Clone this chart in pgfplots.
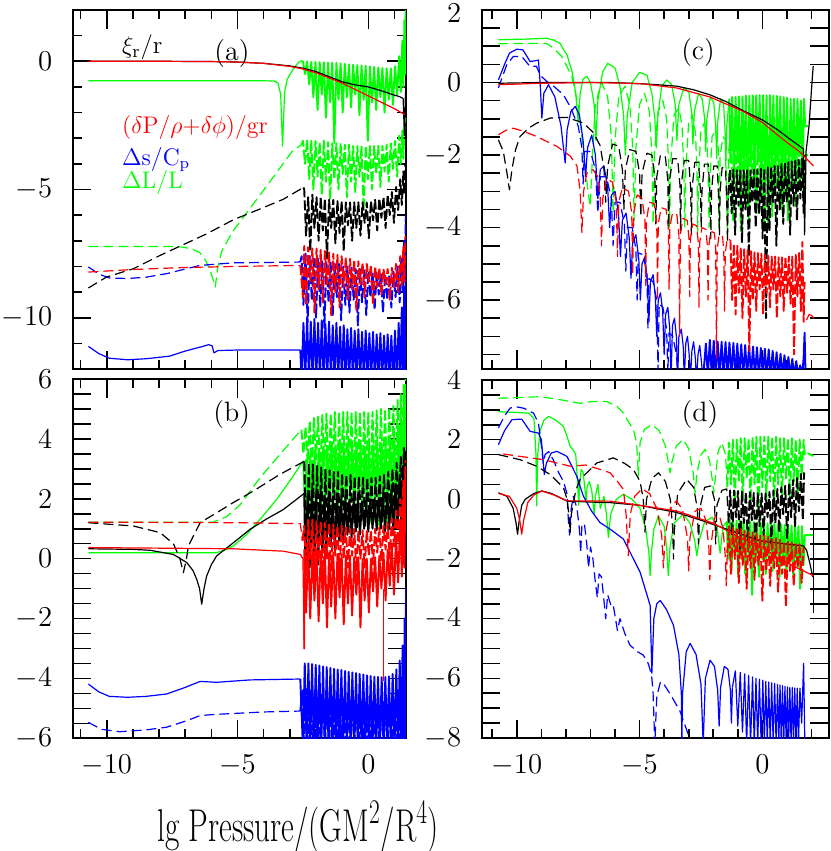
\documentclass[border=0pt]{standalone}
\usepackage{graphicx}
\usepackage{pgfplots}
\pgfplotsset{compat=1.18}
% Four panels of mode amplitudes against lg P. Picture units are pt, one pixel of the
% reference is 0.5pt, so the axes sit where the reference frames are.
\pgfplotsset{
  panel/.style={
    scale only axis, anchor=north west, clip=true,
    axis line style={line width=1pt},
    tick align=inside, tick pos=both,
    major tick length=9.25pt, minor tick length=4.5pt,
    tick style={line width=0.8pt, black},
    tick label style={font=\fontsize{15.5}{18}\selectfont},
    yticklabel style={inner sep=0pt, xshift=-10pt},
    xticklabel style={inner sep=0pt, yshift=-8.3pt},
  },
  S/.style={line width=0.6pt, line join=round},
  D/.style={line width=0.6pt, line join=round, dash pattern=on 5pt off 2.5pt},
  % the fast-oscillating tails: heavier strokes so the bands read as filled
  SZ/.style={line width=0.95pt, line join=round},
  DZ/.style={line width=0.95pt, line join=round, dash pattern=on 5pt off 1.5pt},
}
\begin{document}
\begin{tikzpicture}[x=1pt,y=1pt]
\useasboundingbox (0pt,0pt) rectangle (415pt,-425.5pt);

% ---------------- (a) ----------------
\begin{axis}[panel, at={(36.35pt,-5pt)}, width=166.65pt, height=179.5pt,
  xmin=-11.3, xmax=1.44, ymin=-12, ymax=2,
  xtick={-10,-5,0}, minor xtick={-11,...,1}, xticklabels={},
  ytick={-10,-5,0}, minor ytick={-12,...,2}]
\addplot[green,D] coordinates {(-10.7,-7.22) (-7.3,-7.22) (-6.8,-7.3) (-6.45,-7.45) (-6.2,-7.8) (-6.0,-8.3) (-5.85,-8.8) (-5.75,-8.0) (-5.6,-7.4) (-5.2,-6.66) (-4.4,-5.57) (-3.6,-4.47) (-2.9,-3.5) (-2.55,-3.25)};
\addplot[green,DZ] coordinates {(-2.55,-3.25) (-2.5,-3.1) (-2.42,-4.0) (-2.34,-3.05) (-2.26,-4.6) (-2.18,-3.1) (-2.10,-5.0) (-2.02,-3.1) (-1.94,-4.5) (-1.86,-3.15) (-1.78,-5.2) (-1.70,-3.1) (-1.62,-4.7) (-1.54,-3.15) (-1.46,-5.4) (-1.38,-3.2) (-1.30,-4.6) (-1.22,-3.2) (-1.14,-5.0) (-1.06,-3.2) (-0.98,-4.4) (-0.90,-3.25) (-0.82,-5.3) (-0.74,-3.25) (-0.66,-4.7) (-0.58,-3.3) (-0.50,-5.1) (-0.42,-3.3) (-0.34,-4.5) (-0.26,-3.3) (-0.18,-5.8) (-0.10,-3.3) (-0.02,-4.6) (0.06,-3.3) (0.14,-5.0) (0.22,-3.3) (0.30,-4.4) (0.38,-3.3) (0.46,-4.9) (0.54,-3.3) (0.62,-4.3) (0.70,-3.25) (0.78,-4.7) (0.86,-3.2) (0.94,-4.2) (1.02,-3.1) (1.10,-4.5) (1.18,-2.9) (1.24,-4.0) (1.30,-2.7) (1.34,-3.8) (1.38,-2.5) (1.42,-2.2)};
\addplot[green,S] coordinates {(-10.7,-0.76) (-4.0,-0.76) (-3.6,-0.77) (-3.45,-0.85) (-3.35,-1.3) (-3.28,-3.3) (-3.2,-1.2) (-3.1,-0.7) (-2.9,-0.35) (-2.7,-0.08) (-2.6,0.0)};
\addplot[green,SZ] coordinates {(-2.6,0.0) (-2.5,0.0) (-2.42,-0.5) (-2.34,0.0) (-2.26,-0.9) (-2.18,-0.02) (-2.10,-1.4) (-2.02,-0.02) (-1.94,-1.9) (-1.86,-0.03) (-1.78,-1.3) (-1.70,-0.04) (-1.62,-2.2) (-1.54,-0.05) (-1.46,-1.6) (-1.38,-0.05) (-1.30,-3.2) (-1.22,-0.06) (-1.14,-1.5) (-1.06,-0.08) (-0.98,-2.0) (-0.90,-0.1) (-0.82,-1.4) (-0.74,-0.12) (-0.66,-1.8) (-0.58,-0.13) (-0.50,-1.3) (-0.42,-0.15) (-0.34,-2.1) (-0.26,-0.16) (-0.18,-1.5) (-0.10,-0.18) (-0.02,-3.1) (0.06,-0.2) (0.14,-1.6) (0.22,-0.22) (0.30,-1.9) (0.38,-0.24) (0.46,-1.4) (0.54,-0.26) (0.62,-2.0) (0.70,-0.27) (0.78,-1.5) (0.86,-0.28) (0.94,-1.7) (1.02,-0.2) (1.10,-1.3) (1.18,0.2) (1.24,-1.2) (1.30,0.8) (1.34,-1.0) (1.38,1.6) (1.41,-0.5) (1.43,2.0)};
\addplot[blue,D] coordinates {(-10.7,-8.02) (-10.3,-8.3) (-9.9,-8.45) (-9.2,-8.47) (-8.5,-8.42) (-7.7,-8.28) (-7.0,-8.1) (-6.43,-7.96) (-5.17,-7.86) (-2.6,-7.83)};
\addplot[blue,DZ] coordinates {(-2.6,-7.83) (-2.55,-7.6) (-2.48,-9.5) (-2.40,-7.5) (-2.32,-10.2) (-2.24,-7.6) (-2.16,-9.3) (-2.08,-7.7) (-2.00,-10.0) (-1.92,-7.7) (-1.84,-9.6) (-1.76,-7.8) (-1.68,-10.4) (-1.60,-7.8) (-1.52,-9.4) (-1.44,-7.85) (-1.36,-9.9) (-1.28,-7.9) (-1.20,-9.2) (-1.12,-7.9) (-1.04,-10.1) (-0.96,-8.0) (-0.88,-9.5) (-0.80,-8.0) (-0.72,-9.8) (-0.64,-8.05) (-0.56,-9.3) (-0.48,-8.1) (-0.40,-10.3) (-0.32,-8.1) (-0.24,-9.4) (-0.16,-8.15) (-0.08,-9.9) (0.00,-8.2) (0.08,-9.2) (0.16,-8.2) (0.24,-9.7) (0.32,-8.25) (0.40,-9.1) (0.48,-8.3) (0.56,-9.8) (0.64,-8.3) (0.72,-9.3) (0.80,-8.3) (0.88,-9.6) (0.96,-8.2) (1.04,-9.2) (1.12,-8.0) (1.20,-9.4) (1.26,-7.6) (1.32,-9.0) (1.37,-7.0) (1.41,-8.5) (1.43,-6.0)};
\addplot[blue,S] coordinates {(-10.7,-11.12) (-10.3,-11.4) (-9.9,-11.58) (-9.2,-11.64) (-8.5,-11.6) (-7.6,-11.5) (-7.0,-11.3) (-6.33,-11.12) (-6.1,-11.05) (-5.97,-11.1) (-5.9,-11.37) (-5.75,-11.28) (-5.0,-11.26) (-2.6,-11.26)};
\addplot[blue,SZ] coordinates {(-2.6,-11.26) (-2.55,-12.4) (-2.48,-10.2) (-2.41,-12.4) (-2.34,-10.0) (-2.27,-12.4) (-2.20,-10.15) (-2.13,-12.4) (-2.06,-10.05) (-1.99,-12.4) (-1.92,-10.2) (-1.85,-12.4) (-1.78,-10.1) (-1.71,-12.4) (-1.64,-10.25) (-1.57,-12.4) (-1.50,-10.15) (-1.43,-12.4) (-1.36,-10.3) (-1.29,-12.4) (-1.22,-10.2) (-1.15,-12.4) (-1.08,-10.35) (-1.01,-12.4) (-0.94,-10.3) (-0.87,-12.4) (-0.80,-10.45) (-0.73,-12.4) (-0.66,-10.4) (-0.59,-12.4) (-0.52,-10.5) (-0.45,-12.4) (-0.38,-10.45) (-0.31,-12.4) (-0.24,-10.55) (-0.17,-12.4) (-0.10,-10.5) (-0.03,-12.4) (0.04,-10.6) (0.11,-12.4) (0.18,-10.55) (0.25,-12.4) (0.32,-10.65) (0.39,-12.4) (0.46,-10.6) (0.53,-12.4) (0.60,-10.7) (0.67,-12.4) (0.74,-10.65) (0.81,-12.4) (0.88,-10.7) (0.95,-12.4) (1.02,-10.5) (1.09,-12.4) (1.16,-10.2) (1.22,-12.4) (1.28,-9.6) (1.33,-12.4) (1.37,-8.8) (1.40,-12.4) (1.43,-7.5)};
\addplot[black,D] coordinates {(-10.7,-8.84) (-10.0,-8.41) (-8.98,-8.09) (-7.96,-7.57) (-7.2,-7.21) (-6.18,-6.73) (-5.16,-6.18) (-4.14,-5.76) (-3.25,-5.38) (-2.48,-4.92)};
\addplot[black,DZ] coordinates {(-2.48,-4.92) (-2.45,-5.0) (-2.38,-6.8) (-2.30,-5.3) (-2.22,-7.4) (-2.14,-5.2) (-2.06,-6.5) (-1.98,-5.3) (-1.90,-7.0) (-1.82,-5.3) (-1.74,-6.6) (-1.66,-5.35) (-1.58,-7.7) (-1.50,-5.4) (-1.42,-6.5) (-1.34,-5.4) (-1.26,-7.1) (-1.18,-5.45) (-1.10,-6.7) (-1.02,-5.45) (-0.94,-7.4) (-0.86,-5.5) (-0.78,-6.4) (-0.70,-5.5) (-0.62,-7.0) (-0.54,-5.5) (-0.46,-6.5) (-0.38,-5.5) (-0.30,-6.8) (-0.22,-5.5) (-0.14,-6.3) (-0.06,-5.5) (0.02,-6.9) (0.10,-5.45) (0.18,-6.2) (0.26,-5.4) (0.34,-6.6) (0.42,-5.35) (0.50,-6.1) (0.58,-5.3) (0.66,-6.5) (0.74,-5.2) (0.82,-6.0) (0.90,-5.1) (0.98,-6.3) (1.06,-4.9) (1.14,-5.8) (1.22,-4.6) (1.28,-5.6) (1.34,-4.3) (1.38,-5.2) (1.42,-4.0)};
\addplot[black,S] coordinates {(-10.7,0) (-8,0) (-6,-0.01) (-5,-0.03) (-4,-0.08) (-3,-0.18) (-2.5,-0.27) (-2,-0.4) (-1.5,-0.6) (-1,-0.8) (-0.5,-0.92) (0,-1.0) (0.5,-1.15) (1.0,-1.32) (1.2,-1.38) (1.33,-1.45) (1.38,-2.9) (1.42,-1.2)};
\addplot[red,D] coordinates {(-10.7,-8.22) (-9,-8.12) (-7,-8.04) (-5,-8.0) (-2.6,-7.96)};
\addplot[red,DZ] coordinates {(-2.6,-7.96) (-2.5,-9.2) (-2.45,-7.2) (-2.38,-9.5) (-2.30,-7.25) (-2.22,-8.6) (-2.14,-7.3) (-2.06,-9.8) (-1.98,-7.3) (-1.90,-8.9) (-1.82,-7.35) (-1.74,-9.4) (-1.66,-7.4) (-1.58,-8.7) (-1.50,-7.45) (-1.42,-9.9) (-1.34,-7.5) (-1.26,-9.0) (-1.18,-7.55) (-1.10,-9.6) (-1.02,-7.6) (-0.94,-8.8) (-0.86,-7.65) (-0.78,-9.3) (-0.70,-7.7) (-0.62,-8.9) (-0.54,-7.75) (-0.46,-9.7) (-0.38,-7.8) (-0.30,-8.7) (-0.22,-7.85) (-0.14,-9.2) (-0.06,-7.9) (0.02,-8.6) (0.10,-7.95) (0.18,-9.5) (0.26,-8.0) (0.34,-8.8) (0.42,-8.05) (0.50,-9.1) (0.58,-8.1) (0.66,-8.7) (0.74,-8.1) (0.82,-9.3) (0.90,-8.05) (0.98,-8.8) (1.06,-7.9) (1.14,-9.0) (1.22,-7.6) (1.28,-8.8) (1.34,-7.2) (1.38,-8.6) (1.42,-6.8)};
\addplot[red,S] coordinates {(-10.7,0) (-8,0) (-6,-0.01) (-5,-0.03) (-4,-0.08) (-3,-0.2) (-2.5,-0.3) (-2,-0.45) (-1.5,-0.65) (-1,-0.85) (-0.5,-1.1) (0,-1.35) (0.5,-1.6) (1,-1.85) (1.4,-2.08)};
\node[font=\fontsize{14}{16}\selectfont] at (axis cs:-5.21,0.32) {(a)};
\node[anchor=west, font=\fontsize{12.5}{15}\selectfont] at (axis cs:-9.68,0.55) {$\xi_{\mathrm{r}}$/r};
\node[anchor=west, red, font=\fontsize{12}{15}\selectfont] at (axis cs:-9.68,-2.59) {($\delta$P/$\rho$+$\delta\phi$)/gr};
\node[anchor=west, blue, font=\fontsize{12}{15}\selectfont] at (axis cs:-9.68,-3.83) {$\Delta$s/C$_{\mathrm{p}}$};
\node[anchor=west, green, font=\fontsize{12}{15}\selectfont] at (axis cs:-9.68,-4.72) {$\Delta$L/L};
\end{axis}

% ---------------- (b) ----------------
\begin{axis}[panel, at={(36.35pt,-189.5pt)}, width=166.65pt, height=179.65pt,
  xmin=-11.3, xmax=1.44, ymin=-6, ymax=6,
  xtick={-10,-5,0}, minor xtick={-11,...,1},
  ytick={-6,-5.5,...,6},
  yticklabels={$-6$,,,,$-4$,,,,$-2$,,,,$0$,,,,$2$,,,,$4$,,,,$6$}]
\addplot[green,D] coordinates {(-10.7,1.22) (-5.93,1.22) (-5.42,1.4) (-4.91,1.79) (-4.15,2.69) (-3.39,3.47) (-2.56,4.31)};
\addplot[green,DZ] coordinates {(-2.56,4.31) (-2.48,3.5) (-2.40,4.4) (-2.32,3.2) (-2.24,4.6) (-2.16,2.9) (-2.08,4.7) (-2.00,3.3) (-1.92,4.75) (-1.84,2.6) (-1.76,4.8) (-1.68,3.1) (-1.60,4.85) (-1.52,2.4) (-1.44,4.85) (-1.36,3.0) (-1.28,4.9) (-1.20,2.2) (-1.12,4.9) (-1.04,2.9) (-0.96,4.9) (-0.88,2.3) (-0.80,4.9) (-0.72,2.8) (-0.64,4.9) (-0.56,2.1) (-0.48,4.9) (-0.40,2.7) (-0.32,4.9) (-0.24,2.2) (-0.16,4.9) (-0.08,2.8) (0.00,4.9) (0.08,2.0) (0.16,4.9) (0.24,2.6) (0.32,4.95) (0.40,2.1) (0.48,5.0) (0.56,2.7) (0.64,5.0) (0.72,2.2) (0.80,5.05) (0.88,2.6) (0.96,5.1) (1.04,2.4) (1.12,5.3) (1.18,2.8) (1.24,5.5) (1.30,3.2) (1.35,5.8) (1.39,3.8) (1.43,6.2)};
\addplot[green,S] coordinates {(-10.7,0.2) (-5.8,0.2) (-5.42,0.31) (-5.17,0.42) (-4.66,0.8) (-4.15,1.3) (-3.5,1.98) (-2.87,2.76) (-2.5,3.26) (-2.42,1.4)};
\addplot[green,SZ] coordinates {(-2.42,1.4) (-2.38,3.3) (-2.30,1.3) (-2.22,3.5) (-2.14,1.0) (-2.06,3.6) (-1.98,1.5) (-1.90,3.65) (-1.82,1.1) (-1.74,3.7) (-1.66,1.6) (-1.58,3.7) (-1.50,1.2) (-1.42,3.75) (-1.34,1.7) (-1.26,3.75) (-1.18,1.3) (-1.10,3.75) (-1.02,1.8) (-0.94,3.75) (-0.86,1.4) (-0.78,3.75) (-0.70,1.9) (-0.62,3.75) (-0.54,1.4) (-0.46,3.75) (-0.38,1.8) (-0.30,3.75) (-0.22,1.3) (-0.14,3.75) (-0.06,1.7) (0.02,3.75) (0.10,1.2) (0.18,3.8) (0.26,1.6) (0.34,3.8) (0.42,1.1) (0.50,3.85) (0.58,1.5) (0.66,3.9) (0.74,1.0) (0.82,4.0) (0.90,1.4) (0.98,4.1) (1.06,1.2) (1.14,4.3) (1.20,1.6) (1.26,4.6) (1.32,2.0) (1.36,5.0) (1.40,2.5) (1.43,5.6)};
\addplot[blue,D] coordinates {(-10.7,-5.47) (-10.2,-5.7) (-9.5,-5.78) (-8.5,-5.72) (-7.71,-5.63) (-6.9,-5.4) (-6.43,-5.24) (-5.8,-5.2) (-4,-5.12) (-2.6,-5.09)};
\addplot[blue,DZ] coordinates {(-2.6,-5.09) (-2.52,-4.4) (-2.46,-6.3) (-2.38,-4.35) (-2.30,-6.3) (-2.22,-4.4) (-2.14,-6.3) (-2.06,-4.45) (-1.98,-6.3) (-1.90,-4.5) (-1.82,-6.3) (-1.74,-4.55) (-1.66,-6.3) (-1.58,-4.6) (-1.50,-6.3) (-1.42,-4.65) (-1.34,-6.3) (-1.26,-4.7) (-1.18,-6.3) (-1.10,-4.72) (-1.02,-6.3) (-0.94,-4.75) (-0.86,-6.3) (-0.78,-4.78) (-0.70,-6.3) (-0.62,-4.8) (-0.54,-6.3) (-0.46,-4.83) (-0.38,-6.3) (-0.30,-4.85) (-0.22,-6.3) (-0.14,-4.87) (-0.06,-6.3) (0.02,-4.9) (0.10,-6.3) (0.18,-4.9) (0.26,-6.3) (0.34,-4.9) (0.42,-6.3) (0.50,-4.88) (0.58,-6.3) (0.66,-4.85) (0.74,-6.3) (0.82,-4.8) (0.90,-6.3) (0.98,-4.7) (1.06,-6.3) (1.14,-4.5) (1.22,-6.3) (1.30,-4.0) (1.36,-6.3) (1.42,-3.0)};
\addplot[blue,S] coordinates {(-10.7,-4.19) (-10.3,-4.45) (-9.9,-4.6) (-9.2,-4.63) (-8.5,-4.6) (-7.71,-4.52) (-7.0,-4.3) (-6.43,-4.1) (-5.8,-4.13) (-4.52,-4.05) (-2.6,-4.02)};
\addplot[blue,SZ] coordinates {(-2.6,-4.02) (-2.50,-6.3) (-2.43,-3.5) (-2.36,-6.3) (-2.29,-3.5) (-2.22,-6.3) (-2.15,-3.52) (-2.08,-6.3) (-2.01,-3.55) (-1.94,-6.3) (-1.87,-3.57) (-1.80,-6.3) (-1.73,-3.6) (-1.66,-6.3) (-1.59,-3.62) (-1.52,-6.3) (-1.45,-3.65) (-1.38,-6.3) (-1.31,-3.68) (-1.24,-6.3) (-1.17,-3.7) (-1.10,-6.3) (-1.03,-3.72) (-0.96,-6.3) (-0.89,-3.75) (-0.82,-6.3) (-0.75,-3.78) (-0.68,-6.3) (-0.61,-3.8) (-0.54,-6.3) (-0.47,-3.82) (-0.40,-6.3) (-0.33,-3.85) (-0.26,-6.3) (-0.19,-3.87) (-0.12,-6.3) (-0.05,-3.9) (0.02,-6.3) (0.09,-3.92) (0.16,-6.3) (0.23,-3.94) (0.30,-6.3) (0.37,-3.95) (0.44,-6.3) (0.51,-3.96) (0.58,-6.3) (0.65,-3.95) (0.72,-6.3) (0.79,-3.93) (0.86,-6.3) (0.93,-3.85) (1.00,-6.3) (1.07,-3.7) (1.14,-6.3) (1.20,-3.4) (1.26,-6.3) (1.31,-2.9) (1.35,-6.3) (1.39,-2.0) (1.42,-6.3) (1.44,-1.0)};
\addplot[black,D] coordinates {(-10.7,1.2) (-8.98,1.09) (-7.96,0.87) (-7.45,0.5) (-7.2,0.0) (-7.07,-0.47) (-6.95,0.0) (-6.88,0.42) (-6.43,1.2) (-5.8,1.53) (-5.17,1.87) (-4.41,2.25) (-3.39,2.81) (-2.45,3.25)};
\addplot[black,DZ] coordinates {(-2.45,3.25) (-2.36,0.0) (-2.28,3.2) (-2.20,0.5) (-2.12,3.15) (-2.04,0.3) (-1.96,3.1) (-1.88,0.7) (-1.80,3.05) (-1.72,0.5) (-1.64,3.0) (-1.56,0.9) (-1.48,2.95) (-1.40,0.7) (-1.32,2.9) (-1.24,1.0) (-1.16,2.9) (-1.08,0.8) (-1.00,2.85) (-0.92,1.1) (-0.84,2.8) (-0.76,0.9) (-0.68,2.8) (-0.60,1.2) (-0.52,2.75) (-0.44,1.0) (-0.36,2.75) (-0.28,1.3) (-0.20,2.7) (-0.12,1.1) (-0.04,2.7) (0.04,1.3) (0.12,2.7) (0.20,1.2) (0.28,2.7) (0.36,1.4) (0.44,2.75) (0.52,1.2) (0.60,2.8) (0.68,1.4) (0.76,2.9) (0.84,1.3) (0.92,3.0) (1.00,1.5) (1.08,3.2) (1.16,1.6) (1.24,3.4) (1.30,1.8) (1.36,3.7) (1.41,2.0)};
\addplot[black,S] coordinates {(-10.7,0.33) (-9,0.31) (-8.34,0.28) (-7.45,0.14) (-6.94,-0.13) (-6.7,-0.4) (-6.56,-0.69) (-6.45,-1.0) (-6.37,-1.52) (-6.28,-1.0) (-6.18,-0.58) (-6.0,-0.2) (-5.8,0.09) (-5.16,0.53) (-4.52,0.98) (-3.88,1.33) (-3.25,1.64) (-2.45,2.18)};
\addplot[black,SZ] coordinates {(-2.45,2.18) (-2.40,-0.6) (-2.32,2.2) (-2.24,-0.3) (-2.16,2.2) (-2.08,0.0) (-2.00,2.15) (-1.92,-0.2) (-1.84,2.15) (-1.76,0.2) (-1.68,2.1) (-1.60,0.1) (-1.52,2.1) (-1.44,0.4) (-1.36,2.05) (-1.28,0.3) (-1.20,2.05) (-1.12,0.6) (-1.04,2.0) (-0.96,0.5) (-0.88,2.0) (-0.80,0.8) (-0.72,1.95) (-0.64,0.7) (-0.56,1.95) (-0.48,0.9) (-0.40,1.95) (-0.32,0.8) (-0.24,1.9) (-0.16,1.0) (-0.08,1.9) (0.00,0.9) (0.08,1.9) (0.16,1.0) (0.24,1.95) (0.32,0.95) (0.40,2.0) (0.48,1.0) (0.56,2.1) (0.64,0.9) (0.72,2.2) (0.80,1.0) (0.88,2.3) (0.96,0.9) (1.04,2.5) (1.12,1.0) (1.20,2.8) (1.26,1.2) (1.32,3.1) (1.37,1.4) (1.42,3.6)};
\addplot[red,D] coordinates {(-10.7,1.22) (-5,1.2) (-2.6,1.17) (-2.52,0.6)};
\addplot[red,DZ] coordinates {(-2.52,0.6) (-2.45,1.1) (-2.38,-0.4) (-2.30,1.3) (-2.22,0.0) (-2.14,1.3) (-2.06,-0.5) (-1.98,1.25) (-1.90,-0.1) (-1.82,1.25) (-1.74,-0.6) (-1.66,1.2) (-1.58,0.0) (-1.50,1.2) (-1.42,-0.4) (-1.34,1.15) (-1.26,0.1) (-1.18,1.1) (-1.10,-0.5) (-1.02,1.1) (-0.94,0.0) (-0.86,1.05) (-0.78,-0.3) (-0.70,1.0) (-0.62,0.1) (-0.54,1.0) (-0.46,-0.4) (-0.38,0.95) (-0.30,0.0) (-0.22,0.95) (-0.14,-0.3) (-0.06,0.95) (0.02,0.1) (0.10,0.95) (0.18,-0.2) (0.26,1.0) (0.34,0.2) (0.42,1.05) (0.50,-0.1) (0.58,1.1) (0.66,0.3) (0.74,1.2) (0.82,0.0) (0.90,1.35) (0.98,0.4) (1.06,1.6) (1.14,0.5) (1.22,2.0) (1.28,0.8) (1.34,2.6) (1.38,1.0) (1.42,3.3)};
\addplot[red,S] coordinates {(-10.7,0.37) (-5.17,0.33) (-3.25,0.25) (-2.6,0.14) (-2.5,0.0) (-2.45,-3.02)};
\addplot[red,SZ] coordinates {(-2.45,-3.02) (-2.45,0.3) (-2.38,-1.8) (-2.30,0.35) (-2.22,-2.0) (-2.14,0.3) (-2.06,-1.4) (-1.98,0.3) (-1.90,-2.1) (-1.82,0.25) (-1.74,-1.5) (-1.66,0.25) (-1.58,-2.3) (-1.50,0.2) (-1.42,-1.6) (-1.34,0.2) (-1.26,-2.0) (-1.18,0.15) (-1.10,-1.3) (-1.02,0.15) (-0.94,-2.2) (-0.86,0.1) (-0.78,-1.5) (-0.70,0.1) (-0.62,-1.9) (-0.54,0.05) (-0.46,-1.2) (-0.38,0.05) (-0.30,-2.3) (-0.22,0.0) (-0.14,-1.4) (-0.06,0.0) (0.02,-1.8) (0.10,0.0) (0.18,-1.1) (0.26,0.05) (0.34,-1.6) (0.42,0.1) (0.50,-1.0) (0.58,0.2) (0.66,-1.4) (0.74,0.3) (0.82,-0.9) (0.90,0.5) (0.98,-1.2) (1.06,0.8) (1.14,-0.8) (1.22,1.3) (1.28,-0.6) (1.34,2.0) (1.38,-0.3) (1.42,3.0)};
\addplot[red,S] coordinates {(0.57,-1.0) (0.57,-4.1)};
\node[font=\fontsize{14}{16}\selectfont] at (axis cs:-5.22,4.81) {(b)};
\end{axis}

% ---------------- (c) ----------------
\begin{axis}[panel, at={(240.85pt,-5pt)}, width=173.6pt, height=179.5pt,
  xmin=-11.43, xmax=2.71, ymin=-7.9, ymax=2,
  xtick={-10,-5,0}, minor xtick={-11,...,2}, xticklabels={},
  ytick={-7.5,-7,...,2},
  yticklabels={,,,$-6$,,,,$-4$,,,,$-2$,,,,$0$,,,,\raisebox{-6.5pt}[0pt][0pt]{$2$}}]
\addplot[green,D] coordinates {(-10.75,1.07) (-9.5,1.08) (-8.8,1.08) (-8.51,0.95) (-8.17,0.72) (-7.76,0.17) (-7.49,-0.66) (-7.3,-1.8) (-7.1,-3.0) (-7.01,-3.42) (-6.92,-2.0) (-6.8,-0.6) (-6.55,0.0) (-6.3,-0.4) (-6.15,-1.5) (-6.08,-3.6) (-6.0,-1.6) (-5.85,-0.4) (-5.6,-0.1) (-5.4,-0.6) (-5.28,-1.8) (-5.22,-3.8) (-5.15,-1.8) (-5.0,-0.6) (-4.8,-0.3) (-4.6,-0.8) (-4.5,-2.0) (-4.45,-3.9) (-4.4,-2.0) (-4.25,-0.8) (-4.05,-0.5) (-3.9,-1.0) (-3.82,-2.2) (-3.78,-4.0) (-3.73,-2.2) (-3.6,-0.9) (-3.4,-0.7) (-3.27,-1.2) (-3.2,-2.4) (-3.16,-4.0) (-3.12,-2.4) (-3.0,-1.1) (-2.85,-0.9) (-2.72,-1.4) (-2.66,-2.6) (-2.63,-4.1) (-2.6,-2.6) (-2.5,-1.3) (-2.35,-1.1) (-2.25,-1.6) (-2.2,-2.8) (-2.17,-4.0) (-2.14,-2.8) (-2.05,-1.5) (-1.9,-1.3) (-1.8,-1.8) (-1.76,-4.1) (-1.72,-2.0) (-1.6,-1.5) (-1.5,-1.6) (-1.42,-4.2) (-1.36,-1.9)};
\addplot[green,DZ] coordinates {(-1.36,-1.9) (-1.28,-1.4) (-1.20,-3.8) (-1.12,-1.3) (-1.04,-3.0) (-0.96,-1.3) (-0.88,-4.1) (-0.80,-1.25) (-0.72,-3.2) (-0.64,-1.25) (-0.56,-3.9) (-0.48,-1.2) (-0.40,-2.9) (-0.32,-1.2) (-0.24,-3.6) (-0.16,-1.2) (-0.08,-3.0) (0.00,-1.2) (0.08,-4.0) (0.16,-1.2) (0.24,-3.1) (0.32,-1.2) (0.40,-3.7) (0.48,-1.2) (0.56,-2.9) (0.64,-1.25) (0.72,-3.5) (0.80,-1.25) (0.88,-3.0) (0.96,-1.3) (1.04,-3.8) (1.12,-1.3) (1.20,-3.0) (1.28,-1.3) (1.36,-3.4) (1.44,-1.35) (1.52,-2.8) (1.60,-1.4) (1.68,-3.2) (1.74,-2.0) (1.86,-2.0)};
\addplot[green,S] coordinates {(-10.75,1.18) (-9.5,1.2) (-8.78,1.22) (-8.5,1.17) (-8.24,1.08) (-7.95,0.75) (-7.75,0.3) (-7.6,-0.3) (-7.5,-1.1) (-7.42,-0.3) (-7.3,0.1) (-7.15,0.17) (-7.0,0.0) (-6.85,-0.6) (-6.78,-1.6) (-6.7,-0.5) (-6.5,0.3) (-6.3,0.53) (-6.0,0.4) (-5.8,-0.1) (-5.65,-0.9) (-5.58,-2.0) (-5.5,-0.9) (-5.3,0.0) (-5.0,0.28) (-4.7,0.2) (-4.5,-0.3) (-4.38,-1.0) (-4.32,-1.8) (-4.25,-0.9) (-4.1,-0.1) (-3.9,0.07) (-3.7,-0.05) (-3.55,-0.6) (-3.48,-1.6) (-3.4,-0.6) (-3.2,-0.15) (-3.0,-0.25) (-2.88,-0.8) (-2.83,-1.7) (-2.77,-0.8) (-2.6,-0.3) (-2.45,-0.45) (-2.35,-1.0) (-2.31,-1.9) (-2.26,-1.0) (-2.12,-0.4) (-1.98,-0.55) (-1.9,-1.2) (-1.86,-2.1) (-1.82,-1.1) (-1.7,-0.45) (-1.58,-0.6) (-1.52,-1.3) (-1.49,-2.3) (-1.45,-1.2) (-1.35,-0.45)};
\addplot[green,SZ] coordinates {(-1.35,-0.45) (-1.30,-2.2) (-1.23,-0.4) (-1.16,-2.8) (-1.09,-0.4) (-1.02,-2.0) (-0.95,-0.38) (-0.88,-3.1) (-0.81,-0.38) (-0.74,-2.4) (-0.67,-0.36) (-0.60,-3.4) (-0.53,-0.36) (-0.46,-2.2) (-0.39,-0.35) (-0.32,-2.9) (-0.25,-0.35) (-0.18,-2.1) (-0.11,-0.35) (-0.04,-3.2) (0.03,-0.35) (0.10,-2.5) (0.17,-0.35) (0.24,-4.0) (0.31,-0.35) (0.38,-2.3) (0.45,-0.36) (0.52,-3.0) (0.59,-0.37) (0.66,-2.1) (0.73,-0.38) (0.80,-3.5) (0.87,-0.4) (0.94,-2.4) (1.01,-0.42) (1.08,-3.0) (1.15,-0.45) (1.22,-2.2) (1.29,-0.45) (1.36,-2.9) (1.43,-0.45) (1.50,-2.0) (1.57,-0.5) (1.64,-2.6) (1.70,-0.45) (1.74,-1.2) (1.86,-1.2)};
\addplot[blue,D] coordinates {(-10.75,-0.15) (-10.41,0.49) (-10.14,0.72) (-9.8,0.72) (-9.46,0.44) (-9.2,0.45) (-9.05,0.2) (-8.78,0.03) (-8.5,-0.1) (-8.1,-0.34) (-7.83,-0.66) (-7.5,-1.2) (-7.35,-1.8) (-7.3,-2.8) (-7.25,-1.9) (-7.0,-1.9) (-6.8,-2.4) (-6.7,-3.6) (-6.6,-2.6) (-6.35,-2.6) (-6.15,-3.2) (-6.08,-4.5) (-6.0,-3.3) (-5.8,-3.3) (-5.62,-3.9) (-5.56,-5.2) (-5.5,-4.0) (-5.3,-4.0) (-5.15,-4.6) (-5.1,-6.0) (-5.05,-4.7) (-4.85,-4.75) (-4.7,-5.3) (-4.66,-6.8) (-4.62,-5.4) (-4.45,-5.5) (-4.3,-6.0) (-4.25,-7.95) (-4.2,-6.1) (-4.05,-6.2) (-3.9,-6.8) (-3.85,-8.0) (-3.8,-6.9) (-3.65,-7.0) (-3.5,-7.5) (-3.45,-8.0)};
\addplot[blue,S] coordinates {(-10.75,0.07) (-10.5,0.5) (-10.3,0.81) (-10.0,0.92) (-9.75,0.9) (-9.46,0.58) (-9.25,0.6) (-9.12,0.62) (-9.05,0.0) (-8.98,-0.98) (-8.9,-0.3) (-8.71,-0.06) (-8.45,-0.4) (-8.2,-1.2) (-8.03,-2.22) (-7.95,-1.3) (-7.8,-0.8) (-7.62,-0.66) (-7.45,-0.9) (-7.3,-1.6) (-7.2,-2.6) (-7.12,-1.8) (-6.95,-1.45) (-6.8,-2.0) (-6.7,-3.2) (-6.6,-2.4) (-6.45,-2.3) (-6.3,-2.9) (-6.22,-4.0) (-6.14,-3.1) (-6.0,-3.0) (-5.86,-3.6) (-5.78,-4.8) (-5.7,-3.8) (-5.55,-3.6) (-5.42,-4.3) (-5.35,-5.4) (-5.28,-4.4) (-5.15,-4.2) (-5.03,-4.9) (-4.97,-6.0) (-4.9,-5.0) (-4.78,-4.8) (-4.68,-5.5) (-4.62,-6.6) (-4.56,-5.5) (-4.45,-5.3) (-4.36,-5.9) (-4.3,-7.0) (-4.24,-6.0) (-4.15,-5.8) (-4.06,-6.3) (-4.0,-7.5) (-3.94,-6.4) (-3.85,-6.2) (-3.77,-6.8) (-3.72,-8.2) (-3.66,-6.7) (-3.58,-6.5) (-3.5,-7.0) (-3.45,-8.2) (-3.4,-7.0) (-3.3,-6.8) (-3.22,-7.3) (-3.18,-8.2) (-3.12,-7.2) (-3.05,-7.0) (-2.98,-7.5) (-2.93,-8.2) (-2.87,-7.4) (-2.8,-7.15) (-2.73,-7.6) (-2.68,-8.2) (-2.62,-7.5) (-2.55,-7.25) (-2.48,-7.7) (-2.42,-8.2)};
\addplot[blue,SZ] coordinates {(-2.42,-8.2) (-2.30,-7.2) (-2.22,-8.1) (-2.14,-7.1) (-2.06,-8.1) (-1.98,-7.12) (-1.90,-8.1) (-1.82,-7.14) (-1.74,-8.1) (-1.66,-7.15) (-1.58,-8.1) (-1.50,-7.16) (-1.42,-8.1) (-1.34,-7.17) (-1.26,-8.1) (-1.18,-7.18) (-1.10,-8.1) (-1.02,-7.2) (-0.94,-8.1) (-0.86,-7.22) (-0.78,-8.1) (-0.70,-7.24) (-0.62,-8.1) (-0.54,-7.26) (-0.46,-8.1) (-0.38,-7.28) (-0.30,-8.1) (-0.22,-7.3) (-0.14,-8.1) (-0.06,-7.32) (0.02,-8.1) (0.10,-7.34) (0.18,-8.1) (0.26,-7.36) (0.34,-8.1) (0.42,-7.4) (0.50,-8.1) (0.58,-7.44) (0.66,-8.1) (0.74,-7.48) (0.82,-8.1) (0.90,-7.52) (0.98,-8.1) (1.06,-7.57) (1.14,-8.1) (1.22,-7.62) (1.30,-8.1) (1.38,-7.68) (1.46,-8.1) (1.54,-7.8) (1.62,-8.1) (1.68,-7.6) (1.72,-6.9) (1.76,-8.1)};
\addplot[black,D] coordinates {(-10.75,-1.58) (-10.55,-1.9) (-10.4,-2.5) (-10.3,-2.96) (-10.2,-2.4) (-10.05,-1.85) (-9.87,-1.49) (-9.5,-1.25) (-9.19,-1.12) (-8.64,-0.98) (-7.96,-0.96) (-7.28,-1.12) (-6.87,-1.39) (-6.6,-1.75) (-6.45,-2.4) (-6.38,-3.3) (-6.3,-2.3) (-6.1,-1.7) (-5.85,-1.75) (-5.7,-2.4) (-5.64,-3.5) (-5.58,-2.4) (-5.4,-1.85) (-5.15,-1.9) (-5.0,-2.5) (-4.95,-3.7) (-4.9,-2.5) (-4.7,-1.95) (-4.5,-2.0) (-4.38,-2.6) (-4.34,-3.9) (-4.3,-2.6) (-4.15,-2.0) (-3.95,-2.05) (-3.85,-2.7) (-3.82,-4.0) (-3.78,-2.7) (-3.65,-2.1) (-3.45,-2.1) (-3.36,-2.8) (-3.33,-4.1) (-3.3,-2.8) (-3.18,-2.15) (-3.0,-2.15) (-2.92,-2.9) (-2.89,-4.2) (-2.86,-2.9) (-2.75,-2.2) (-2.6,-2.2) (-2.52,-3.0) (-2.49,-4.0) (-2.46,-3.0) (-2.36,-2.25) (-2.2,-2.25) (-2.13,-3.1) (-2.1,-4.3) (-2.07,-3.0) (-1.98,-2.3) (-1.84,-2.3) (-1.78,-3.2) (-1.75,-4.2) (-1.72,-3.0) (-1.64,-2.35) (-1.5,-2.35) (-1.45,-3.3) (-1.42,-4.4) (-1.39,-3.1)};
\addplot[black,DZ] coordinates {(-1.39,-3.1) (-1.32,-2.4) (-1.25,-3.6) (-1.18,-2.4) (-1.11,-4.2) (-1.04,-2.42) (-0.97,-3.4) (-0.90,-2.42) (-0.83,-4.4) (-0.76,-2.42) (-0.69,-3.5) (-0.62,-2.42) (-0.55,-4.8) (-0.48,-2.42) (-0.41,-3.3) (-0.34,-2.4) (-0.27,-4.0) (-0.20,-2.4) (-0.13,-3.6) (-0.06,-2.38) (0.01,-4.3) (0.08,-2.36) (0.15,-6.5) (0.22,-2.34) (0.29,-4.1) (0.36,-2.32) (0.43,-3.3) (0.50,-2.3) (0.57,-4.5) (0.64,-2.28) (0.71,-3.5) (0.78,-2.25) (0.85,-3.9) (0.92,-2.22) (0.99,-3.3) (1.06,-2.2) (1.13,-4.2) (1.20,-2.18) (1.27,-3.4) (1.34,-2.15) (1.41,-3.8) (1.48,-2.13) (1.55,-3.2) (1.62,-2.1) (1.68,-3.6) (1.72,-2.0)};
\addplot[black,S] coordinates {(-10.75,-0.02) (-9,0.0) (-7,0.0) (-6.2,0.0) (-5,-0.03) (-4.3,-0.06) (-3.49,-0.1) (-2.8,-0.2) (-2.13,-0.34) (-1.5,-0.52) (-0.77,-0.78) (0,-1.03) (0.59,-1.29) (1.1,-1.55) (1.67,-1.83) (1.72,-4.2) (1.78,-1.9) (1.9,-1.2) (2.0,-0.2) (2.07,0.45)};
\addplot[red,D] coordinates {(-10.75,-1.44) (-10.45,-1.32) (-10.14,-1.26) (-9.7,-1.35) (-9.19,-1.49) (-8.37,-1.76) (-7.82,-2.03) (-7.55,-2.3) (-7.42,-3.0) (-7.35,-4.14) (-7.28,-3.0) (-7.15,-2.5) (-6.9,-2.4) (-6.7,-2.6) (-6.6,-3.2) (-6.55,-4.5) (-6.5,-3.2) (-6.35,-2.65) (-6.1,-2.75) (-5.95,-3.3) (-5.9,-4.8) (-5.85,-3.3) (-5.7,-2.9) (-5.45,-3.0) (-5.32,-3.6) (-5.28,-5.3) (-5.24,-3.6) (-5.1,-3.1) (-4.9,-3.2) (-4.78,-3.8) (-4.75,-5.6) (-4.72,-3.8) (-4.6,-3.3) (-4.4,-3.35) (-4.3,-3.9) (-4.27,-6.0) (-4.24,-3.9) (-4.12,-3.45) (-3.92,-3.5) (-3.83,-4.0) (-3.8,-5.7) (-3.77,-4.0) (-3.66,-3.6) (-3.48,-3.65) (-3.4,-4.2) (-3.37,-7.0) (-3.34,-4.2) (-3.24,-3.75) (-3.06,-3.8) (-2.99,-4.3) (-2.96,-5.9) (-2.93,-4.3) (-2.84,-3.9) (-2.68,-3.95) (-2.61,-4.4) (-2.58,-6.2) (-2.55,-4.4) (-2.46,-4.0) (-2.3,-4.05) (-2.24,-4.5) (-2.21,-6.0) (-2.18,-4.5) (-2.1,-4.1) (-1.95,-4.15) (-1.9,-4.6) (-1.87,-7.6) (-1.84,-4.6) (-1.76,-4.2) (-1.62,-4.25) (-1.57,-4.7) (-1.54,-6.3) (-1.51,-4.7) (-1.43,-4.3) (-1.3,-4.35)};
\addplot[red,DZ] coordinates {(-1.3,-4.35) (-1.23,-6.0) (-1.16,-4.45) (-1.09,-6.4) (-1.02,-4.5) (-0.95,-5.8) (-0.88,-4.55) (-0.81,-6.5) (-0.74,-4.6) (-0.67,-5.9) (-0.60,-4.62) (-0.53,-7.4) (-0.46,-4.65) (-0.39,-6.0) (-0.32,-4.68) (-0.25,-6.3) (-0.18,-4.7) (-0.11,-5.7) (-0.04,-4.72) (0.03,-6.4) (0.10,-4.75) (0.17,-5.8) (0.24,-4.78) (0.31,-6.2) (0.38,-4.8) (0.45,-5.7) (0.52,-4.8) (0.59,-6.5) (0.66,-4.82) (0.73,-5.9) (0.80,-4.82) (0.87,-6.3) (0.94,-4.8) (1.01,-5.8) (1.08,-4.8) (1.15,-6.1) (1.22,-4.78) (1.29,-7.5) (1.36,-4.75) (1.43,-5.9) (1.50,-4.7) (1.57,-6.3) (1.63,-4.4) (1.68,-6.6) (1.72,-5.5)};
\addplot[red,S] coordinates {(1.8,-6.55) (1.9,-6.4) (2.0,-6.42) (2.1,-6.5)};
\addplot[red,S] coordinates {(-10.75,-0.06) (-9,-0.02) (-7,0.0) (-5.5,-0.02) (-4.85,-0.04) (-3.49,-0.15) (-2.13,-0.4) (-0.77,-0.8) (0.0,-1.1) (0.59,-1.43) (1.0,-1.65) (1.54,-1.92) (2.08,-2.3)};
\node[font=\fontsize{14}{16}\selectfont] at (axis cs:-2.62,0.82) {(c)};
\end{axis}

% ---------------- (d) ----------------
\begin{axis}[panel, at={(240.85pt,-190pt)}, width=173.6pt, height=179pt,
  xmin=-11.43, xmax=2.71, ymin=-8, ymax=4,
  xtick={-10,-5,0}, minor xtick={-11,...,2},
  ytick={-8,-7.5,...,4},
  yticklabels={$-8$,,,,$-6$,,,,$-4$,,,,$-2$,,,,$0$,,,,$2$,,,,$4$}]
\addplot[green,D] coordinates {(-10.75,3.39) (-9.05,3.44) (-8.3,3.35) (-7.43,3.22) (-6.9,3.28) (-6.34,3.28) (-5.9,3.1) (-5.66,2.89) (-5.45,2.6) (-5.25,2.33) (-5.12,1.9) (-5.05,0.78) (-4.98,1.9) (-4.8,2.35) (-4.5,2.5) (-4.2,2.3) (-3.95,1.8) (-3.82,1.2) (-3.76,0.89) (-3.7,1.2) (-3.5,1.8) (-3.22,2.0) (-3.0,1.7) (-2.82,0.9) (-2.74,0.22) (-2.66,0.9) (-2.5,1.5) (-2.33,1.67) (-2.15,1.3) (-2.03,0.6) (-1.98,0.22) (-1.93,0.6) (-1.8,1.6) (-1.65,1.9) (-1.5,1.5) (-1.43,0.4)};
\addplot[green,DZ] coordinates {(-1.43,0.4) (-1.36,1.9) (-1.28,0.5) (-1.20,2.0) (-1.12,-0.1) (-1.04,2.0) (-0.96,0.6) (-0.88,2.05) (-0.80,0.0) (-0.72,2.05) (-0.64,0.7) (-0.56,2.05) (-0.48,-0.3) (-0.40,2.1) (-0.32,0.5) (-0.24,2.1) (-0.16,-0.6) (-0.08,2.1) (0.00,0.4) (0.08,2.1) (0.16,0.0) (0.24,2.1) (0.32,0.6) (0.40,2.1) (0.48,-0.2) (0.56,2.1) (0.64,0.5) (0.72,2.05) (0.80,0.1) (0.88,2.05) (0.96,0.7) (1.04,2.05) (1.12,0.0) (1.20,2.05) (1.28,0.6) (1.36,2.0) (1.44,0.2) (1.52,2.0) (1.60,0.8) (1.68,2.0) (1.73,1.5) (1.85,1.55) (2.08,1.45)};
\addplot[green,S] coordinates {(-10.75,2.94) (-9.5,2.89) (-9.3,2.7) (-9.22,1.5) (-9.19,-0.22) (-9.15,1.5) (-9.05,2.3) (-8.9,2.65) (-8.71,2.78) (-8.4,2.65) (-8.1,2.44) (-7.95,2.1) (-7.83,1.78) (-7.7,1.65) (-7.6,1.5) (-7.52,0.5) (-7.48,-0.2) (-7.44,0.5) (-7.38,1.0) (-7.3,0.9) (-7.22,0.3) (-7.18,-0.1) (-7.14,0.4) (-7.05,0.6) (-6.95,0.3) (-6.85,-0.5) (-6.8,0.1) (-6.7,0.5) (-6.6,-0.3) (-6.45,0.1) (-6.35,-0.5) (-6.27,-1.28) (-6.18,-0.5) (-5.95,0.0) (-5.66,0.17) (-5.3,0.0) (-4.98,-0.3) (-4.75,-1.0) (-4.62,-1.8) (-4.57,-2.56) (-4.52,-1.8) (-4.42,-1.0) (-4.23,-0.56) (-4.0,-0.9) (-3.9,-1.6) (-3.83,-2.56) (-3.76,-1.6) (-3.6,-0.8) (-3.22,-0.5) (-2.95,-0.8) (-2.75,-1.4) (-2.67,-1.89) (-2.58,-1.4) (-2.35,-0.75) (-2.05,-0.6) (-1.85,-0.9) (-1.72,-1.8) (-1.6,-0.9) (-1.45,-0.75)};
\addplot[green,SZ] coordinates {(-1.45,-0.75) (-1.40,-2.0) (-1.33,-0.7) (-1.26,-2.4) (-1.19,-0.7) (-1.12,-1.9) (-1.05,-0.72) (-0.98,-2.6) (-0.91,-0.72) (-0.84,-2.0) (-0.77,-0.74) (-0.70,-2.5) (-0.63,-0.74) (-0.56,-1.9) (-0.49,-0.76) (-0.42,-3.2) (-0.35,-0.76) (-0.28,-2.1) (-0.21,-0.78) (-0.14,-2.6) (-0.07,-0.78) (0.00,-2.0) (0.07,-0.8) (0.14,-2.5) (0.21,-0.8) (0.28,-1.9) (0.35,-0.82) (0.42,-2.4) (0.49,-0.82) (0.56,-2.0) (0.63,-0.84) (0.70,-2.6) (0.77,-0.84) (0.84,-2.1) (0.91,-0.86) (0.98,-2.5) (1.05,-0.86) (1.12,-2.0) (1.19,-0.88) (1.26,-2.6) (1.33,-0.88) (1.40,-2.1) (1.47,-0.9) (1.54,-3.0) (1.61,-0.9) (1.68,-2.2) (1.73,-1.2) (2.08,-1.2)};
\addplot[blue,D] coordinates {(-10.75,2.39) (-10.5,2.8) (-10.27,3.06) (-10.0,3.1) (-9.7,3.05) (-9.32,2.89) (-9.12,2.56) (-9.0,1.8) (-8.92,1.2) (-8.85,1.5) (-8.7,1.6) (-8.5,1.3) (-8.3,0.9) (-8.1,0.6) (-7.96,0.2) (-7.9,-0.7) (-7.85,-1.2) (-7.8,-0.4) (-7.7,0.1) (-7.55,-0.3) (-7.45,-1.0) (-7.4,-1.8) (-7.35,-0.9) (-7.25,-0.8) (-7.15,-1.5) (-7.08,-2.3) (-7.0,-1.6) (-6.9,-2.0) (-6.8,-2.8) (-6.72,-3.3) (-6.65,-2.5) (-6.55,-2.6) (-6.45,-3.4) (-6.38,-4.0) (-6.3,-3.2) (-6.15,-3.6) (-6.07,-3.56) (-5.9,-4.4) (-5.8,-4.0) (-5.6,-4.5) (-5.39,-4.89) (-5.1,-5.1) (-4.85,-5.22) (-4.65,-5.5) (-4.57,-5.72) (-4.5,-6.0) (-4.45,-6.5) (-4.38,-8.2) (-4.3,-6.6) (-4.15,-6.12) (-4.03,-6.17) (-3.7,-6.6) (-3.35,-7.11) (-3.01,-7.9) (-2.9,-8.2)};
\addplot[blue,S] coordinates {(-10.75,1.83) (-10.5,2.3) (-10.2,2.67) (-9.8,2.69) (-9.46,2.28) (-9.12,2.22) (-9.0,2.0) (-8.92,1.2) (-8.88,0.83) (-8.8,1.2) (-8.6,1.55) (-8.37,1.61) (-7.96,1.44) (-7.56,0.78) (-7.29,0.11) (-6.95,-0.4) (-6.61,-0.78) (-6.2,-1.0) (-5.66,-1.33) (-4.98,-2.44) (-4.7,-3.2) (-4.57,-3.56) (-4.5,-5.83) (-4.42,-4.0) (-4.3,-3.5) (-4.16,-3.39) (-3.9,-3.7) (-3.62,-4.22) (-3.4,-5.2) (-3.3,-6.5) (-3.28,-8.2) (-3.25,-6.5) (-3.1,-5.1) (-2.94,-4.83) (-2.7,-5.2) (-2.5,-6.2) (-2.41,-8.2) (-2.32,-6.0) (-2.13,-5.39) (-1.95,-5.6) (-1.82,-6.4) (-1.76,-7.6) (-1.7,-6.3) (-1.55,-5.6) (-1.4,-5.7) (-1.3,-6.4) (-1.26,-7.5) (-1.22,-6.3)};
\addplot[blue,S] coordinates {(-1.22,-6.3) (-1.10,-5.75) (-1.0,-7.6) (-0.90,-5.8) (-0.81,-7.8) (-0.72,-5.85) (-0.64,-8.2) (-0.56,-5.9) (-0.48,-8.2) (-0.40,-5.95) (-0.33,-8.2) (-0.26,-6.0) (-0.19,-8.2) (-0.12,-6.03) (-0.05,-8.2) (0.02,-6.06) (0.08,-8.2) (0.14,-6.1) (0.20,-8.2) (0.26,-6.12) (0.32,-8.2) (0.38,-6.15) (0.44,-8.2) (0.50,-6.17) (0.56,-8.2) (0.62,-6.2) (0.67,-8.2) (0.72,-6.22) (0.77,-8.2) (0.82,-6.25) (0.87,-8.2) (0.92,-6.27) (0.97,-8.2) (1.02,-6.29) (1.07,-8.2) (1.12,-6.3) (1.17,-8.2) (1.22,-6.31) (1.27,-8.2) (1.32,-6.32) (1.37,-8.2) (1.42,-6.33) (1.47,-8.2) (1.53,-6.33) (1.6,-7.5) (1.68,-5.5) (1.73,-8.2)};
\addplot[black,D] coordinates {(-10.75,1.5) (-9.87,1.33) (-9.19,1.11) (-8.64,0.83) (-8.1,0.39) (-7.95,0.0) (-7.87,-0.6) (-7.83,-1.11) (-7.78,-0.5) (-7.6,0.3) (-7.42,0.67) (-6.74,1.22) (-6.07,1.39) (-5.6,1.2) (-5.25,1.0) (-4.98,0.6) (-4.85,0.0) (-4.78,-1.1) (-4.72,0.0) (-4.5,0.7) (-4.23,0.89) (-3.95,0.6) (-3.75,0.0) (-3.65,-1.0) (-3.62,-2.0) (-3.58,-1.0) (-3.45,0.2) (-3.08,0.67) (-2.8,0.4) (-2.65,-0.3) (-2.6,-1.5) (-2.55,-0.3) (-2.35,0.4) (-2.1,0.45) (-1.95,0.0) (-1.9,-1.5) (-1.85,-0.2) (-1.65,0.3) (-1.45,0.35) (-1.38,-0.8)};
\addplot[black,DZ] coordinates {(-1.38,-0.8) (-1.31,0.3) (-1.23,-1.2) (-1.15,0.3) (-1.07,-0.6) (-0.99,0.28) (-0.91,-1.8) (-0.83,0.26) (-0.75,-0.8) (-0.67,0.25) (-0.59,-1.4) (-0.51,0.24) (-0.43,-0.7) (-0.35,0.22) (-0.27,-1.6) (-0.19,0.2) (-0.11,-0.9) (-0.03,0.2) (0.05,-1.2) (0.13,0.2) (0.21,-0.6) (0.29,0.25) (0.37,-1.5) (0.45,0.3) (0.53,-0.8) (0.61,0.35) (0.69,-1.1) (0.77,0.4) (0.85,-0.5) (0.93,0.45) (1.01,-1.3) (1.09,0.55) (1.17,-0.6) (1.25,0.65) (1.33,-0.9) (1.41,0.75) (1.49,-0.4) (1.57,0.85) (1.65,-0.7) (1.70,0.9)};
\addplot[black,S] coordinates {(-10.75,0.22) (-10.4,0.1) (-10.15,-0.3) (-10.03,-0.8) (-9.97,-1.17) (-9.9,-0.7) (-9.8,-0.2) (-9.66,0.0) (-9.3,0.2) (-8.98,0.28) (-8.6,0.2) (-8.37,0.11) (-7.96,-0.06) (-7,-0.09) (-6.2,-0.11) (-5,-0.2) (-3.49,-0.44) (-2.5,-0.7) (-1.45,-1.0) (-0.09,-1.39) (1.0,-1.5) (1.67,-1.56) (1.8,-1.7) (1.95,-2.2) (2.05,-2.6)};
\addplot[black,S] coordinates {(2.08,-0.5) (2.08,-3.8)};
\addplot[red,D] coordinates {(-10.55,1.52) (-8.92,1.33) (-7.83,1.11) (-7.2,1.15) (-6.6,1.0) (-6.2,0.89) (-5.9,0.6) (-5.66,0.33) (-5.55,-0.5) (-5.46,-1.89) (-5.38,-0.5) (-5.2,0.1) (-4.9,0.35) (-4.6,0.2) (-4.3,-0.3) (-4.1,-1.2) (-4.03,-2.3) (-3.96,-1.2) (-3.75,-0.3) (-3.5,-0.05) (-3.25,-0.35) (-3.05,-1.3) (-3.0,-2.4) (-2.95,-1.3) (-2.75,-0.4) (-2.5,-0.3) (-2.3,-0.7) (-2.18,-1.6) (-2.14,-2.7) (-2.1,-1.6) (-1.95,-0.6) (-1.75,-0.55) (-1.6,-1.0) (-1.5,-2.0) (-1.47,-2.9) (-1.43,-1.8)};
\addplot[red,DZ] coordinates {(-1.43,-1.8) (-1.36,-0.9) (-1.28,-2.5) (-1.20,-0.95) (-1.12,-2.0) (-1.04,-1.0) (-0.96,-2.8) (-0.88,-1.0) (-0.80,-2.2) (-0.72,-1.05) (-0.64,-3.0) (-0.56,-1.1) (-0.48,-2.3) (-0.40,-1.1) (-0.32,-2.7) (-0.24,-1.15) (-0.16,-2.2) (-0.08,-1.2) (0.00,-3.4) (0.08,-1.2) (0.16,-2.4) (0.24,-1.25) (0.32,-2.9) (0.40,-1.3) (0.48,-2.3) (0.56,-1.3) (0.64,-3.1) (0.72,-1.35) (0.80,-2.5) (0.88,-1.4) (0.96,-3.6) (1.04,-1.4) (1.12,-2.4) (1.20,-1.45) (1.28,-2.9) (1.36,-1.5) (1.44,-2.3) (1.52,-1.5) (1.60,-2.8) (1.68,-1.6)};
\addplot[red,S] coordinates {(-10.75,0.2) (-10.3,0.1) (-10.0,-0.3) (-9.88,-0.7) (-9.8,-1.17) (-9.72,-0.7) (-9.55,-0.1) (-9.3,0.15) (-8.98,0.28) (-8.5,0.15) (-7.96,-0.05) (-6.2,-0.06) (-5,-0.2) (-3.49,-0.39) (-2.0,-0.8) (-1.0,-1.25) (0.0,-1.6) (0.59,-1.94) (1.3,-2.25) (2.08,-2.56)};
\node[font=\fontsize{14}{16}\selectfont] at (axis cs:-2.54,2.83) {(d)};
\end{axis}

\node[anchor=base, font=\fontsize{23}{26}\selectfont] at (149pt,-420.85pt)
  {\scalebox{0.68}[1]{lg Pressure/(GM$^2$/R$^4$)}};
\end{tikzpicture}
\end{document}
